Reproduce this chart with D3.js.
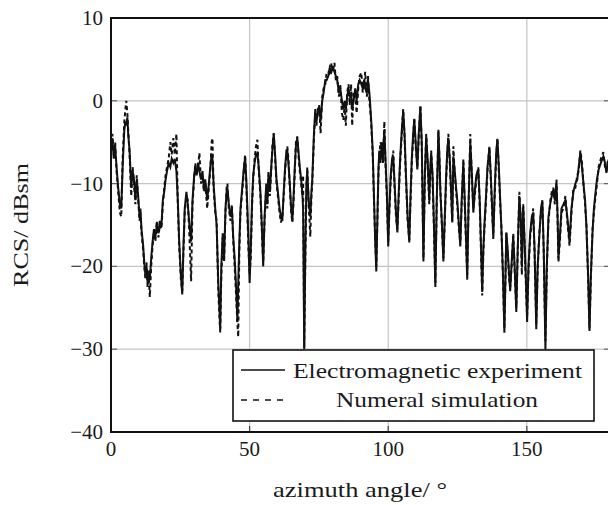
<!DOCTYPE html>
<html>
<head>
<meta charset="utf-8">
<script src="https://cdn.jsdelivr.net/npm/d3@7"></script>
<style>
  body { margin: 0; background: #fff; }
  text { font-family: "Liberation Serif", "DejaVu Serif", serif; fill: #1a1a1a; }
</style>
</head>
<body>
<svg id="chart" width="608" height="505"></svg>
<script>
// azimuth angles (deg) and RCS values (dBsm)
const angles = [
  0.0,0.5,1.0,1.5,2.0,2.6,3.2,3.7,4.2,4.8,5.2,5.5,5.9,6.2,6.7,7.3,7.8,8.3,8.8,9.3,
  9.8,10.3,10.6,11.0,11.6,12.0,12.4,12.8,13.2,13.6,14.0,14.5,15.0,15.5,16.0,16.5,17.1,17.6,18.2,18.7,
  19.2,19.7,20.2,20.8,21.4,21.9,22.5,23.0,23.6,24.1,24.6,25.2,25.7,26.1,26.6,27.2,27.7,28.3,28.9,29.4,
  30.0,30.4,30.9,31.4,31.9,32.5,33.0,33.5,34.0,34.7,35.3,35.8,36.3,36.6,37.0,37.6,38.1,38.7,39.1,39.4,
  39.8,40.3,40.8,41.3,41.7,42.0,42.5,43.1,43.6,44.1,44.6,45.2,45.6,45.9,46.3,46.7,47.2,47.7,48.1,48.4,
  48.8,49.2,49.6,50.0,50.4,50.9,51.3,51.8,52.3,52.8,53.3,53.9,54.4,54.9,55.4,56.0,56.4,56.8,57.3,57.8,
  58.2,58.7,59.2,59.7,60.2,60.8,61.3,61.8,62.3,62.8,63.3,63.6,64.0,64.5,65.0,65.4,65.8,66.3,66.7,67.2,
  67.6,68.1,68.6,69.0,69.3,69.7,70.1,70.5,70.8,71.3,71.9,72.3,72.6,73.2,73.7,74.1,74.6,75.1,75.6,76.2,
  76.7,77.3,77.8,78.4,78.9,79.5,80.0,80.6,81.1,81.6,82.2,82.7,83.3,83.8,84.3,84.7,85.2,85.7,86.1,86.6,
  87.0,87.5,88.1,88.6,89.2,89.7,90.3,90.8,91.3,91.7,92.3,92.7,93.2,93.6,93.9,94.4,94.9,95.3,95.7,96.1,
  96.5,96.8,97.2,97.7,98.1,98.6,99.0,99.5,100.0,100.4,100.9,101.4,101.8,102.3,102.8,103.3,103.8,104.3,104.9,105.4,
  105.9,106.4,107.0,107.6,108.0,108.5,109.0,109.4,109.9,110.5,111.0,111.6,112.1,112.7,113.2,113.7,114.2,114.8,115.2,115.5,
  116.0,116.5,117.0,117.5,118.1,118.5,118.8,119.4,119.9,120.4,120.9,121.3,121.7,122.2,122.7,123.1,123.5,124.0,124.5,124.9,
  125.5,126.0,126.5,127.1,127.6,128.1,128.5,129.0,129.6,130.2,130.7,131.2,131.8,132.5,133.0,133.5,133.9,134.3,134.7,135.2,
  135.8,136.5,137.0,137.5,137.9,138.5,139.0,139.4,139.9,140.4,140.8,141.4,141.9,142.3,142.6,143.1,143.6,144.0,144.6,145.1,
  145.6,146.2,146.7,147.3,147.8,148.2,148.7,149.2,149.7,150.1,150.6,151.2,151.8,152.3,152.8,153.4,153.9,154.5,155.1,155.6,
  156.1,156.7,157.2,157.8,158.5,159.0,159.6,160.1,160.7,161.1,161.4,162.0,162.5,163.2,163.9,164.6,165.4,166.1,166.8,167.5,
  168.2,168.7,169.3,169.9,170.4,171.0,171.5,172.1,172.6,173.1,173.7,174.2,174.8,175.3,175.9,176.7,177.6,178.2,178.7,179.3,
  180.0
];

const experiment = [
  -6,-4.5,-7,-5.5,-8,-10.5,-12.5,-13,-8,-3.5,-2.5,-3,-2,-4,-6,-10.5,-8.5,-9.5,-12,-9.5,
  -11.5,-14,-13,-15.5,-17.5,-19.5,-21,-20,-22,-20.5,-21.5,-19,-17,-15.5,-16.5,-15,-16,-14.5,-15,-12,
  -11,-9.5,-8.5,-7.5,-8,-7,-7.5,-7,-8.5,-12,-17,-21,-23.4,-18,-13,-11,-12.5,-15,-17,-12,
  -9,-8,-9,-7.5,-8.5,-9.5,-8.5,-10.5,-9.5,-12,-10,-8,-6.5,-7,-10,-13,-15,-22,-25,-27.5,
  -20,-16,-19,-13,-11,-10.5,-12.5,-14,-13,-16.5,-19,-23,-26.7,-22,-17,-13,-11,-9,-7.5,-7,
  -9.5,-13,-17,-22,-18,-12,-9,-7.5,-6.5,-6.3,-8,-11,-15,-20,-14,-10,-12.5,-9,-11,-8,
  -6,-4,-6.5,-9.5,-11,-13,-14,-14.5,-11,-8,-6,-6,-7.5,-10,-13,-14.5,-12,-8,-5.5,-4.5,
  -6,-8,-9.5,-11,-13,-29.8,-18,-10,-8.5,-12,-14,-11,-9.5,-4,-1,-2.5,-1.5,-0.7,-2.5,0,
  1,2.5,2.5,3,4,3.5,4,3.5,3,2.5,1,1.5,0,-1,0,-1,0.5,1.5,0.5,1,
  -1,0,1.5,0,2,2.5,2,1.5,2.5,1.5,1,2.5,1,-1,-2.6,-6,-12,-17,-20.6,-14,
  -8,-6,-7.5,-5,-7,-3.5,-7,-11,-17.6,-13,-9,-7,-6.7,-10,-13.5,-15.9,-11,-7,-3.5,-1.3,
  -4,-9,-14,-17.1,-12,-7,-4,-2.3,-5,-8.3,-4,-0.7,-5,-19.4,-9,-4.3,-7,-12,-8,-6.3,
  -9,-15,-22.5,-12,-3.7,-7,-11,-15,-19.4,-14,-9,-6,-4.5,-7,-11,-14.7,-6.7,-8.5,-10.5,-12,
  -15,-17.6,-12,-7.5,-12,-17,-21.6,-12,-5,-9,-13.5,-11,-9,-8.3,-12,-18,-23.1,-18,-15,-12,
  -8,-5.7,-9,-13,-16.7,-10,-6,-4.7,-8,-12,-15.2,-21,-28,-21,-15.9,-18,-21,-23,-19,-16.4,
  -20,-25.5,-18,-11.6,-14,-20,-12.8,-17,-22,-26.7,-20,-16,-14,-13.5,-18,-27.6,-20,-16.4,-13,-12,
  -18,-30,-20,-14,-12.3,-11.5,-10.7,-12,-10,-14,-19,-16,-13,-12.5,-12,-14,-17,-13,-11,-10,
  -9.5,-8,-6.3,-8,-9.9,-12,-15.2,-21,-27.8,-21,-15.9,-13,-11,-9.5,-8.3,-7.5,-6.7,-7.5,-8.7,-7.5,
  -8
];

const simulation = [
  -5,-4,-6.5,-5,-8.5,-11,-13.5,-14,-7,-2.5,-1,0,-1.5,-3.5,-6.5,-11.5,-8,-10,-12.5,-9,
  -12,-14.5,-13.5,-16,-18,-20,-21.5,-19.5,-22.5,-21,-23.7,-20,-17.5,-16,-17,-14.5,-16.5,-15,-15.5,-12.5,
  -10.5,-9,-8,-7,-5,-6.5,-4.5,-6.5,-4,-12.5,-17.5,-21.5,-23,-18.5,-13.5,-11.5,-12,-16.5,-21.8,-12.5,
  -9.5,-7.5,-9,-8,-6.3,-10,-9,-11,-10,-13,-10.5,-8.5,-5,-4.5,-10.5,-13.5,-14.5,-23,-26,-28,
  -21,-16.5,-19.5,-13.5,-10.5,-10,-13,-14.5,-12.5,-17,-20,-24,-27,-28.5,-18,-13.5,-11.5,-9.5,-7.5,-6.5,
  -10,-14,-18,-21,-19,-12.5,-9.5,-7,-5.5,-4.7,-8.5,-11.5,-15.5,-19.5,-14.5,-10.5,-13,-8.5,-11.5,-8.5,
  -5.5,-3.9,-7,-10,-11.5,-13.5,-14.7,-14,-11.5,-8.5,-6.5,-5.5,-7,-10.5,-13.5,-14.7,-12.5,-8.5,-5,-4.3,
  -6.5,-8.5,-10,-11.5,-9,-30,-19,-10.5,-8,-12.5,-16.4,-11.5,-10,-4.5,-1.5,-3,-1,-0.5,-3.9,0.5,
  1.5,2,3.5,3.5,3,4.5,3.5,4.6,2.5,3,0.5,2,-1.5,-2.3,-0.5,-3,1,2,-0.5,2,
  -3,1,1,-1.5,1.5,3,3.4,1,2,3.5,0.5,3,0,-1.5,-3,-6.5,-12.5,-16.5,-20,-14.5,
  -8.5,-6.5,-5,-5.5,-7.5,-2.5,-7.5,-11.5,-17,-13.5,-9.5,-7.5,-6,-10.5,-14,-15.5,-11.5,-7.5,-4,-1,
  -4.5,-9.5,-14.5,-16.8,-12.5,-7.5,-4.5,-2,-5.5,-8,-4.5,-0.5,-5.5,-19,-9.5,-4,-7.5,-12.5,-8.5,-6,
  -9.5,-15.5,-22,-12.5,-3.5,-7.5,-10.5,-15.5,-19,-14.5,-9.5,-6.5,-4,-7.5,-11.5,-14.5,-5.5,-9,-11,-12.5,
  -15.5,-17,-12.5,-7,-12.5,-17.5,-21,-12.5,-4,-9.5,-13,-11.5,-9.5,-8,-12.5,-18.5,-23.5,-18.5,-15.5,-12.5,
  -8.5,-5.5,-9.5,-13.5,-16,-10.5,-6.5,-4.5,-8.5,-12.5,-15,-21.5,-27.5,-21.5,-16,-18.5,-21.5,-22.5,-19.5,-16,
  -20.5,-25,-18.5,-11,-14.5,-21,-12.5,-17.5,-22.5,-26,-20.5,-16.5,-14.5,-13,-18.5,-27,-20.5,-16,-13.5,-12.3,
  -18.5,-29,-20.5,-14.5,-12,-11,-10.5,-12.5,-9.5,-14.5,-19.5,-16.5,-13.5,-13,-11.5,-14.5,-17.5,-13.5,-10.5,-10.5,
  -9,-8.5,-6,-7.5,-10,-12.5,-15,-21.5,-27.5,-21.5,-15.5,-13.5,-11.5,-10,-8,-7,-6.2,-8,-8.5,-7,
  -7.5
];

const xTicks = [0, 50, 100, 150];
const yTicks = [-40, -30, -20, -10, 0, 10];
const seriesNames = ["Electromagnetic experiment", "Numeral simulation"];

if (experiment.length !== angles.length || simulation.length !== angles.length) {
  throw new Error(`length mismatch ${angles.length} ${experiment.length} ${simulation.length}`);
}

const svg = d3.select("#chart");
const plotLeft = 111, plotRight = 610, plotTop = 18, plotBottom = 432;

const x = d3.scaleLinear().domain([0, 180]).range([plotLeft, plotRight]);
const y = d3.scaleLinear().domain([-40, 10]).range([plotBottom, plotTop]);

// grid
svg.append("g")
  .selectAll("line")
  .data(xTicks.filter(d => d > 0))
  .join("line")
  .attr("x1", d => x(d)).attr("x2", d => x(d))
  .attr("y1", plotTop).attr("y2", plotBottom)
  .attr("stroke", "#c4c4c4").attr("stroke-width", 1.2);

svg.append("g")
  .selectAll("line")
  .data(yTicks.filter(d => d > -40 && d < 10))
  .join("line")
  .attr("x1", plotLeft).attr("x2", plotRight)
  .attr("y1", d => y(d)).attr("y2", d => y(d))
  .attr("stroke", "#c4c4c4").attr("stroke-width", 1.2);

// inner tick marks
const tk = 6;
svg.append("g")
  .selectAll("line")
  .data(yTicks)
  .join("line")
  .attr("x1", plotLeft).attr("x2", plotLeft + tk)
  .attr("y1", d => y(d)).attr("y2", d => y(d))
  .attr("stroke", "#666").attr("stroke-width", 1.2);
svg.append("g")
  .selectAll("line")
  .data(yTicks)
  .join("line")
  .attr("x1", plotRight - tk).attr("x2", plotRight)
  .attr("y1", d => y(d)).attr("y2", d => y(d))
  .attr("stroke", "#666").attr("stroke-width", 1.2);
svg.append("g")
  .selectAll("line")
  .data(xTicks)
  .join("line")
  .attr("x1", d => x(d)).attr("x2", d => x(d))
  .attr("y1", plotBottom).attr("y2", plotBottom - tk)
  .attr("stroke", "#444").attr("stroke-width", 1.2);

// data lines
svg.append("defs").append("clipPath").attr("id", "plotClip")
  .append("rect")
  .attr("x", plotLeft).attr("y", plotTop)
  .attr("width", plotRight - plotLeft).attr("height", plotBottom - plotTop);

const line = d3.line()
  .x((d, i) => x(angles[i]))
  .y(d => y(d));

const plot = svg.append("g").attr("clip-path", "url(#plotClip)");

plot.append("path")
  .datum(simulation)
  .attr("d", line)
  .attr("fill", "none")
  .attr("stroke", "#111")
  .attr("stroke-width", 2)
  .attr("stroke-dasharray", "4,3");

plot.append("path")
  .datum(experiment)
  .attr("d", line)
  .attr("fill", "none")
  .attr("stroke", "#111")
  .attr("stroke-width", 2);

// frame
svg.append("path")
  .attr("d", `M${plotRight},${plotTop}H${plotLeft}V${plotBottom}H${plotRight}`)
  .attr("fill", "none")
  .attr("stroke", "#111")
  .attr("stroke-width", 2);

// tick labels
svg.append("g")
  .selectAll("text")
  .data(yTicks)
  .join("text")
  .attr("x", plotLeft - 8)
  .attr("y", d => y(d) + 7)
  .attr("text-anchor", "end")
  .attr("font-size", 21)
  .text(d => d < 0 ? "\u2212" + Math.abs(d) : d);

svg.append("g")
  .selectAll("text")
  .data(xTicks)
  .join("text")
  .attr("x", d => x(d))
  .attr("y", plotBottom + 24)
  .attr("text-anchor", "middle")
  .attr("font-size", 21)
  .text(d => d);

// axis titles (stretched to the width of the original lettering)
svg.append("text")
  .attr("x", 273)
  .attr("y", 497)
  .attr("font-size", 21)
  .attr("textLength", 174)
  .attr("lengthAdjust", "spacingAndGlyphs")
  .text("azimuth angle/ \u00b0");

svg.append("text")
  .attr("transform", `translate(28,287) rotate(-90)`)
  .attr("font-size", 21)
  .attr("textLength", 124)
  .attr("lengthAdjust", "spacingAndGlyphs")
  .text("RCS/ dBsm");

// legend
const lg = svg.append("g");
lg.append("rect")
  .attr("x", 233).attr("y", 350)
  .attr("width", 361).attr("height", 71)
  .attr("fill", "#fff")
  .attr("stroke", "#111")
  .attr("stroke-width", 1.6);

lg.append("line")
  .attr("x1", 241).attr("x2", 285)
  .attr("y1", 370).attr("y2", 370)
  .attr("stroke", "#111").attr("stroke-width", 1.6);
lg.append("line")
  .attr("x1", 241).attr("x2", 285)
  .attr("y1", 400).attr("y2", 400)
  .attr("stroke", "#111").attr("stroke-width", 1.6)
  .attr("stroke-dasharray", "6,6");

const legendSpan = [[293, 289], [336, 202]];
lg.selectAll("text")
  .data(seriesNames)
  .join("text")
  .attr("x", (d, i) => legendSpan[i][0])
  .attr("y", (d, i) => 378 + i * 29)
  .attr("font-size", 21)
  .attr("textLength", (d, i) => legendSpan[i][1])
  .attr("lengthAdjust", "spacingAndGlyphs")
  .text(d => d);
</script>
</body>
</html>
